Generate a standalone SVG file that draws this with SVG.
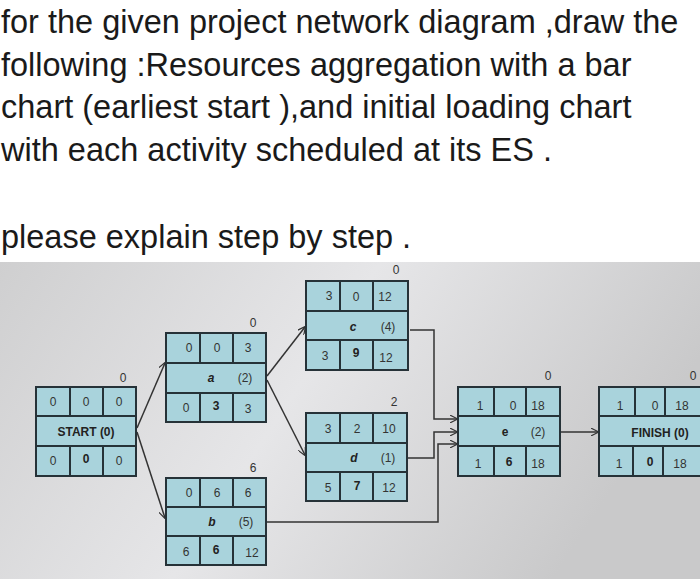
<svg xmlns="http://www.w3.org/2000/svg" width="700" height="579" viewBox="0 0 700 579">
<defs>
<linearGradient id="bg" x1="0" y1="0" x2="1" y2="0.3"><stop offset="0" stop-color="#cfcfd0"/><stop offset="0.5" stop-color="#e6e6e8"/><stop offset="1" stop-color="#c9c9ca"/></linearGradient>
<marker id="ah" viewBox="0 0 10 10" refX="9" refY="5" markerWidth="8" markerHeight="8" orient="auto" markerUnits="userSpaceOnUse"><path d="M0,0 L10,5 L0,10" fill="none" stroke="#333" stroke-width="1.5"/></marker>
<style>
.q{font-family:"Liberation Sans",Arial,sans-serif;font-size:32.5px;fill:#1a1a1a}
.c{fill:#a9d3dc;stroke:#263238;stroke-width:2}
.t{font-family:"Liberation Sans",Arial,sans-serif;font-size:12px;fill:#333;text-anchor:middle}
.m{font-family:"Liberation Sans",Arial,sans-serif;font-size:12px;fill:#222;font-weight:bold;text-anchor:middle}
.l{fill:none;stroke:#333;stroke-width:1.5}
</style>
</defs>
<rect width="700" height="579" fill="#fff"/>
<rect x="0" y="262" width="700" height="317" fill="url(#bg)"/>
<text class="q" x="1" y="33">for the given project network diagram ,draw the</text>
<text class="q" x="1" y="76">following :Resources aggregation with a bar</text>
<text class="q" x="1" y="118">chart (earliest start ),and initial loading chart</text>
<text class="q" x="1" y="161">with each activity scheduled at its ES .</text>
<text class="q" x="1" y="248">please explain step by step .</text>
<g id="connectors">
<line class="l" x1="137" y1="428" x2="165" y2="363" marker-end="url(#ah)"/>
<line class="l" x1="137" y1="432" x2="165" y2="518" marker-end="url(#ah)"/>
<line class="l" x1="267" y1="376" x2="305" y2="327" marker-end="url(#ah)"/>
<line class="l" x1="267" y1="380" x2="305" y2="455" marker-end="url(#ah)"/>
<polyline class="l" points="410,330 434,330 434,419 457,419" marker-end="url(#ah)"/>
<polyline class="l" points="408,458 434,458 434,432 457,432" marker-end="url(#ah)"/>
<polyline class="l" points="267,522 438,522 438,444 457,444" marker-end="url(#ah)"/>
<line class="l" x1="561" y1="432" x2="598" y2="432" marker-end="url(#ah)"/>
</g>
<g id="start">
<rect class="c" x="36" y="387" width="34" height="29"/><rect class="c" x="70" y="387" width="33" height="29"/><rect class="c" x="103" y="387" width="33" height="29"/>
<rect class="c" x="36" y="416" width="100" height="30"/>
<rect class="c" x="36" y="446" width="34" height="30"/><rect class="c" x="70" y="446" width="33" height="30"/><rect class="c" x="103" y="446" width="33" height="30"/>
<text class="t" x="123" y="382">0</text>
<text class="t" x="53" y="406">0</text><text class="t" x="86" y="406">0</text><text class="t" x="119" y="406">0</text>
<text class="m" x="86" y="436">START (0)</text>
<text class="t" x="53" y="465">0</text><text class="m" x="86" y="463">0</text><text class="t" x="119" y="465">0</text>
</g>
<g id="a">
<rect class="c" x="166" y="333" width="34" height="30"/><rect class="c" x="200" y="333" width="33" height="30"/><rect class="c" x="233" y="333" width="33" height="30"/>
<rect class="c" x="166" y="363" width="100" height="30"/>
<rect class="c" x="166" y="393" width="34" height="29"/><rect class="c" x="200" y="393" width="33" height="29"/><rect class="c" x="233" y="393" width="33" height="29"/>
<text class="t" x="253" y="327">0</text>
<text class="t" x="189" y="352">0</text><text class="t" x="217" y="352">0</text><text class="t" x="248" y="352">3</text>
<text class="m" x="211" y="382" font-style="italic">a</text><text class="t" x="245" y="382">(2)</text>
<text class="t" x="186" y="412">0</text><text class="m" x="216" y="410">3</text><text class="t" x="248" y="413">3</text>
</g>
<g id="b">
<rect class="c" x="166" y="478" width="34" height="29"/><rect class="c" x="200" y="478" width="33" height="29"/><rect class="c" x="233" y="478" width="33" height="29"/>
<rect class="c" x="166" y="507" width="100" height="29"/>
<rect class="c" x="166" y="536" width="34" height="29"/><rect class="c" x="200" y="536" width="33" height="29"/><rect class="c" x="233" y="536" width="33" height="29"/>
<text class="t" x="253" y="472">6</text>
<text class="t" x="189" y="497">0</text><text class="t" x="217" y="497">6</text><text class="t" x="248" y="497">6</text>
<text class="m" x="212" y="526" font-style="italic">b</text><text class="t" x="246" y="526">(5)</text>
<text class="t" x="186" y="556">6</text><text class="m" x="216" y="554">6</text><text class="t" x="252" y="557">12</text>
</g>
<g id="c">
<rect class="c" x="306" y="281" width="34" height="30"/><rect class="c" x="340" y="281" width="33" height="30"/><rect class="c" x="373" y="281" width="35" height="30"/>
<rect class="c" x="306" y="311" width="102" height="29"/>
<rect class="c" x="306" y="340" width="34" height="30"/><rect class="c" x="340" y="340" width="33" height="30"/><rect class="c" x="373" y="340" width="35" height="30"/>
<text class="t" x="396" y="274">0</text>
<text class="t" x="329" y="300">3</text><text class="t" x="356" y="301">0</text><text class="t" x="385" y="301">12</text>
<text class="m" x="353" y="331" font-style="italic">c</text><text class="t" x="388" y="331">(4)</text>
<text class="t" x="325" y="360">3</text><text class="m" x="356" y="357">9</text><text class="t" x="386" y="362">12</text>
</g>
<g id="d">
<rect class="c" x="306" y="413" width="34" height="30"/><rect class="c" x="340" y="413" width="33" height="30"/><rect class="c" x="373" y="413" width="34" height="30"/>
<rect class="c" x="306" y="443" width="101" height="29"/>
<rect class="c" x="306" y="472" width="34" height="29"/><rect class="c" x="340" y="472" width="33" height="29"/><rect class="c" x="373" y="472" width="34" height="29"/>
<text class="t" x="394" y="406">2</text>
<text class="t" x="328" y="433">3</text><text class="t" x="357" y="433">2</text><text class="t" x="389" y="433">10</text>
<text class="m" x="354" y="462" font-style="italic">d</text><text class="t" x="388" y="462">(1)</text>
<text class="t" x="328" y="492">5</text><text class="m" x="357" y="490">7</text><text class="t" x="389" y="492">12</text>
</g>
<g id="e">
<rect class="c" x="458" y="387" width="36" height="29"/><rect class="c" x="494" y="387" width="32" height="29"/><rect class="c" x="526" y="387" width="34" height="29"/>
<rect class="c" x="458" y="416" width="102" height="30"/>
<rect class="c" x="458" y="446" width="36" height="30"/><rect class="c" x="494" y="446" width="32" height="30"/><rect class="c" x="526" y="446" width="34" height="30"/>
<text class="t" x="548" y="380">0</text>
<text class="t" x="480" y="410">1</text><text class="t" x="513" y="410">0</text><text class="t" x="538" y="410">18</text>
<text class="m" x="505" y="436">e</text><text class="t" x="538" y="436">(2)</text>
<text class="t" x="478" y="468">1</text><text class="m" x="509" y="466">6</text><text class="t" x="538" y="468">18</text>
</g>
<g id="finish">
<rect class="c" x="599" y="387" width="36" height="29"/><rect class="c" x="635" y="387" width="30" height="29"/><rect class="c" x="665" y="387" width="40" height="29"/>
<rect class="c" x="599" y="416" width="106" height="30"/>
<rect class="c" x="599" y="446" width="34" height="30"/><rect class="c" x="633" y="446" width="30" height="30"/><rect class="c" x="663" y="446" width="42" height="30"/>
<text class="t" x="693" y="380">0</text>
<text class="t" x="620" y="410">1</text><text class="t" x="655" y="410">0</text><text class="t" x="682" y="410">18</text>
<text class="m" x="660" y="437">FINISH (0)</text>
<text class="t" x="619" y="468">1</text><text class="m" x="650" y="466">0</text><text class="t" x="680" y="468">18</text>
</g>
</svg>
